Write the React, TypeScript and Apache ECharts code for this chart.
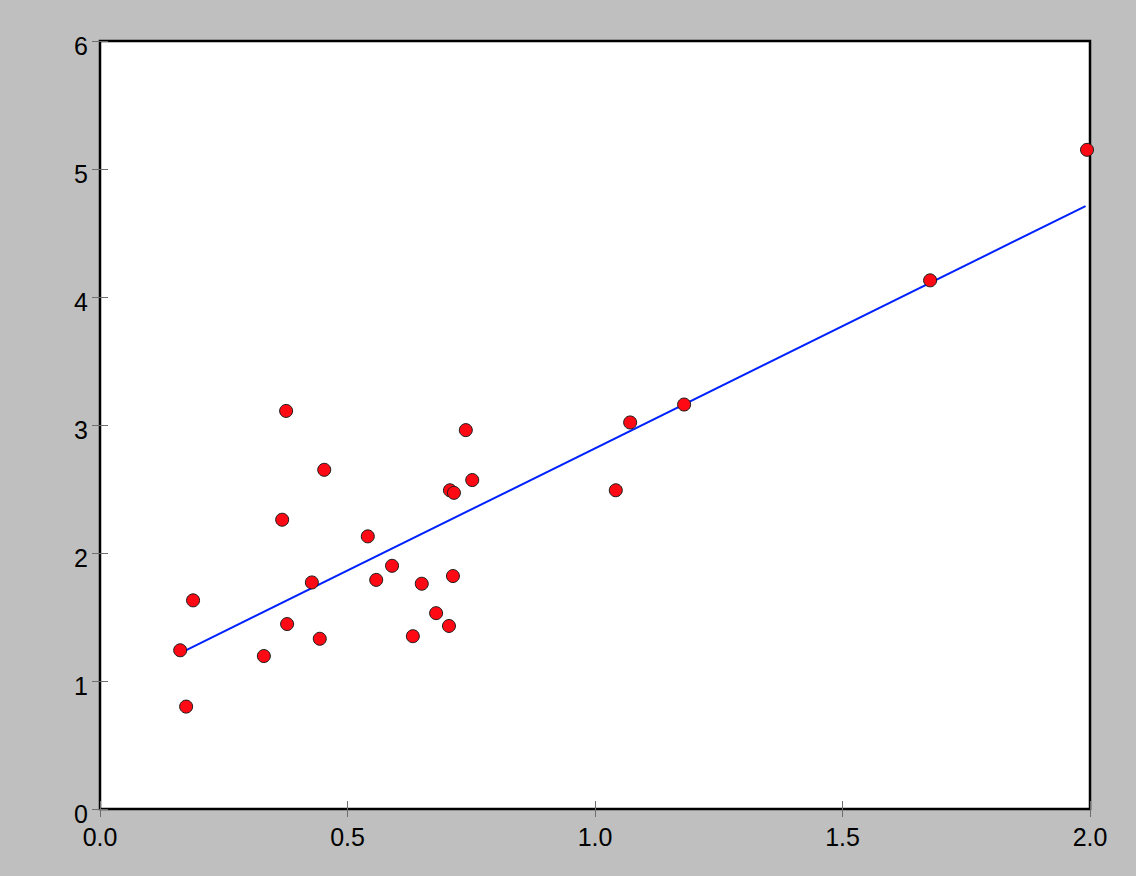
import React, { useEffect, useRef } from "react";
import * as echarts from "echarts";

const pointsX = [0.162, 0.174, 0.188, 0.331, 0.368, 0.376, 0.378, 0.428, 0.444, 0.453, 0.541, 0.558, 0.590, 0.632, 0.650, 0.679, 0.705, 0.707, 0.715, 0.713, 0.739, 0.752, 1.042, 1.071, 1.180, 1.677, 1.994];
const pointsY = [1.24, 0.80, 1.63, 1.195, 2.26, 3.11, 1.445, 1.77, 1.33, 2.65, 2.13, 1.79, 1.90, 1.35, 1.76, 1.53, 1.43, 2.49, 2.47, 1.82, 2.96, 2.57, 2.49, 3.02, 3.16, 4.13, 5.15];
const fitX = [0.158, 1.991];
const fitY = [1.21, 4.71];

const FONT = "'Liberation Sans', Arial, Helvetica, sans-serif";

export default function App() {
  const ref = useRef<HTMLDivElement>(null);
  useEffect(() => {
    if (!ref.current) return;
    const chart = echarts.init(ref.current, null, { renderer: "svg" });
    const tick = { show: true, inside: true, length: 8, lineStyle: { color: "#6e6e6e", width: 1 } };
    const baseX = {
      type: "value" as const,
      min: 0,
      max: 2,
      interval: 0.5,
      splitLine: { show: false },
      axisLine: { show: false },
      axisTick: tick,
    };
    const baseY = {
      type: "value" as const,
      min: 0,
      max: 6,
      interval: 1,
      splitLine: { show: false },
      axisLine: { show: false },
      axisTick: tick,
    };
    chart.setOption({
      animation: false,
      backgroundColor: "#bfbfbf",
      grid: {
        left: 100,
        top: 41,
        right: 46,
        bottom: 67,
        show: true,
        backgroundColor: "#ffffff",
        borderColor: "#000000",
        borderWidth: 2.5,
      },
      xAxis: [
        {
          ...baseX,
          position: "bottom",
          axisLabel: {
            show: true,
            margin: 15,
            color: "#000",
            fontSize: 25,
            fontFamily: FONT,
            formatter: (v: number) => v.toFixed(1),
          },
        },
        { ...baseX, position: "top", axisLabel: { show: false } },
      ],
      yAxis: [
        {
          ...baseY,
          position: "left",
          axisLabel: {
            show: true,
            margin: 12,
            color: "#000",
            fontSize: 25,
            fontFamily: FONT,
            verticalAlign: "top",
            lineHeight: 10,
          },
        },
        { ...baseY, position: "right", axisLabel: { show: false } },
      ],
      series: [
        {
          type: "line",
          data: fitX.map((x, i) => [x, fitY[i]]),
          showSymbol: false,
          symbol: "none",
          lineStyle: { color: "#0022ff", width: 2 },
          z: 2,
        },
        {
          type: "scatter",
          data: pointsX.map((x, i) => [x, pointsY[i]]),
          symbolSize: 13,
          itemStyle: { color: "#ff0a14", borderColor: "#1a1a1a", borderWidth: 1, opacity: 1 },
          z: 3,
        },
      ],
    });
    return () => chart.dispose();
  }, []);
  return (
    <div
      ref={ref}
      style={{ position: "fixed", left: 0, top: 0, width: 1136, height: 876 }}
    />
  );
}
